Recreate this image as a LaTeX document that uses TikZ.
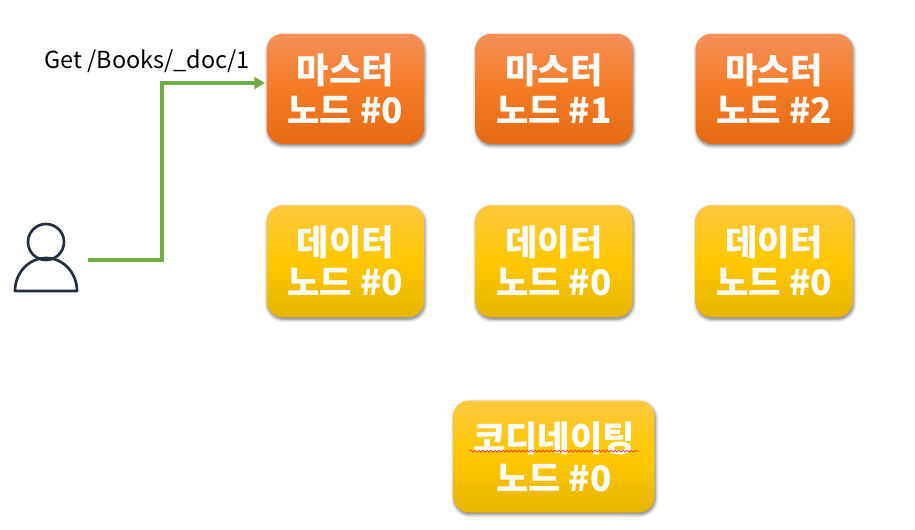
\documentclass[tikz,border=0pt]{standalone}
\usepackage{fontspec}
\setmainfont{Noto Sans CJK KR}
\usetikzlibrary{arrows.meta, positioning, shadows, shadows.blur, decorations.pathmorphing}

\begin{document}
\begin{tikzpicture}[
        x=0.75pt, y=-0.75pt,
        node distance=45.75pt and 38pt,
        nodeBox/.style={rectangle, rounded corners=12pt, align=center, text=white, inner sep=0pt,
            font=\fontsize{26.4}{30}\selectfont\bfseries, minimum width=118pt, minimum height=84pt,
            blur shadow={shadow xshift=0.6pt, shadow yshift=-1.5pt, shadow blur radius=2.5pt, shadow blur steps=6, shadow opacity=55}},
        masterNode/.style={nodeBox, top color=masterTop, bottom color=masterBottom, middle color=masterMiddle, minimum height=82.5pt},
        dataNode/.style={nodeBox, top color=dataTop, bottom color=dataBottom, middle color=dataMiddle},
        arrow/.style={-{Triangle[length=8pt, width=9pt]}, line width=3pt, draw=arrowGreen},
        personLine/.style={line width=2pt, draw=personBlue}
    ]
        \definecolor{masterTop}{HTML}{F49058}
        \definecolor{masterMiddle}{HTML}{F57B26}
        \definecolor{masterBottom}{HTML}{E66A14}
        \definecolor{dataTop}{HTML}{FFC83F}
        \definecolor{dataMiddle}{HTML}{FFC800}
        \definecolor{dataBottom}{HTML}{E6B400}
        \definecolor{arrowGreen}{HTML}{70AD47}
        \definecolor{personBlue}{HTML}{232F3E}
        \useasboundingbox (0,0) rectangle (915,529);

        \node[masterNode, anchor=north west] (master0) at (266.5,33.5) {마스터\\노드 \#0};
        \node[masterNode, right=of master0] (master1) {마스터\\노드 \#1};
        \node[masterNode, right=46.75pt of master1] (master2) {마스터\\노드 \#2};
        \node[dataNode, below=of master0] (data0) {데이터\\노드 \#0};
        \node[dataNode, below=of master1] (data1) {데이터\\노드 \#0};
        \node[dataNode, below=of master2] (data2) {데이터\\노드 \#0};
        \node[dataNode, below=62pt of data1, minimum width=151pt] (coord0) {코디네이팅\\노드 \#0};
        \node[anchor=east, inner sep=0pt, font=\fontsize{17.6}{20}\selectfont] (request) at (250,61) {Get /Books/\_doc/1};

        % user icon
        \node[circle, personLine, draw, minimum size=27pt, inner sep=0pt] (userHead) at (46,242) {};
        \draw[personLine, line join=round] (15,291) arc[start angle=180, end angle=360, x radius=31, y radius=33] -- cycle;

        \coordinate (userPort) at (88,260);
        \coordinate (masterPort) at (265,83);
        \draw[arrow] (userPort) -- ++(74,0) |- (masterPort);

        % spelling mark under the text
        \draw[red!80!white, line width=0.5pt, decorate, decoration={snake, amplitude=0.7pt, segment length=3pt}]
            ([xshift=-63pt, yshift=4pt]coord0.center) -- ([xshift=63pt, yshift=4pt]coord0.center);
    \end{tikzpicture}
\end{document}
